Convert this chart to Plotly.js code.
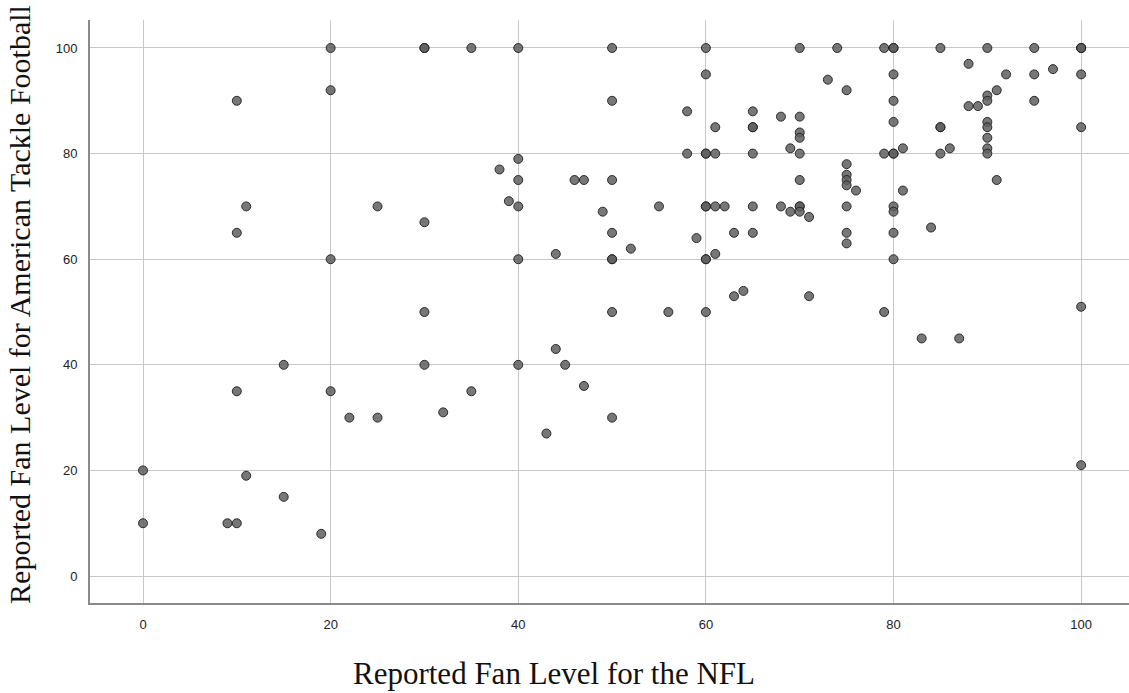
<!DOCTYPE html>
<html>
<head>
<meta charset="utf-8">
<script src="https://cdn.plot.ly/plotly-3.0.1.min.js"></script>
<style>html,body{margin:0;padding:0;background:#fff;}#chart{width:1129px;height:693px;}</style>
</head>
<body>
<div id="chart"></div>
<script>
// Reported Fan Level for the NFL (x) vs American Tackle Football (y)
const nflFan = [
  0, 0, 9, 10, 10, 10, 10, 11, 11, 15, 15, 19,
  20, 20, 20, 20, 22, 25, 25,
  30, 30, 30, 30, 30, 32, 35, 35, 38, 39,
  40, 40, 40, 40, 40, 40, 43, 44, 44, 45, 46, 47, 47, 49,
  50, 50, 50, 50, 50, 50, 50, 50, 52, 55, 56, 58, 58, 59,
  60, 60, 60, 60, 60, 60, 60, 60, 60, 61, 61, 61, 61, 62, 63, 63, 64,
  65, 65, 65, 65, 65, 65, 68, 68, 69, 69,
  70, 70, 70, 70, 70, 70, 70, 70, 70, 71, 71, 73, 74,
  75, 75, 75, 75, 75, 75, 75, 75, 76,
  79, 79, 79, 80, 80, 80, 80, 80, 80, 80, 80, 80, 80, 80, 81, 81, 83, 84,
  85, 85, 85, 85, 86, 87, 88, 88, 89,
  90, 90, 90, 90, 90, 90, 90, 90, 91, 91, 92,
  95, 95, 95, 97, 100, 100, 100, 100, 100, 100, 100
];
const tackleFan = [
  20, 10, 10, 90, 65, 35, 10, 70, 19, 40, 15, 8,
  100, 92, 60, 35, 30, 70, 30,
  100, 100, 67, 50, 40, 31, 100, 35, 77, 71,
  100, 79, 75, 70, 60, 40, 27, 61, 43, 40, 75, 75, 36, 69,
  100, 90, 75, 65, 60, 60, 50, 30, 62, 70, 50, 88, 80, 64,
  100, 95, 80, 80, 70, 70, 60, 60, 50, 85, 80, 70, 61, 70, 65, 53, 54,
  88, 85, 85, 80, 70, 65, 87, 70, 81, 69,
  100, 87, 84, 83, 80, 75, 70, 70, 69, 68, 53, 94, 100,
  92, 78, 76, 75, 74, 70, 65, 63, 73,
  100, 80, 50, 100, 100, 95, 90, 86, 80, 80, 70, 69, 65, 60, 81, 73, 45, 66,
  100, 85, 85, 80, 81, 45, 97, 89, 89,
  100, 91, 90, 86, 85, 83, 81, 80, 92, 75, 95,
  100, 95, 90, 96, 100, 100, 100, 95, 85, 51, 21
];
const tickVals = [0, 20, 40, 60, 80, 100];
const tickText = ['0', '20', '40', '60', '80', '100'];
const xTitle = 'Reported Fan Level for the NFL';
const yTitle = 'Reported Fan Level for American Tackle Football';

const trace = {
  type: 'scatter',
  mode: 'markers',
  x: nflFan,
  y: tackleFan,
  marker: {
    size: 9,
    color: 'rgba(95,95,95,0.85)',
    line: {color: 'rgba(30,30,30,0.9)', width: 1}
  },
  hoverinfo: 'x+y'
};

const axisCommon = {
  showgrid: true,
  gridcolor: '#c8c8c8',
  gridwidth: 1,
  zeroline: false,
  showline: true,
  linecolor: '#8a8a8a',
  linewidth: 2,
  ticks: '',
  tickvals: tickVals,
  ticktext: tickText,
  tickfont: {family: 'Liberation Sans, Arial, sans-serif', size: 13, color: '#222'}
};

const serif = 'Liberation Serif, Times New Roman, serif';

const layout = {
  width: 1129,
  height: 693,
  margin: {l: 90, r: 0, t: 20, b: 90},
  paper_bgcolor: '#ffffff',
  plot_bgcolor: '#ffffff',
  showlegend: false,
  xaxis: Object.assign({}, axisCommon, {
    range: [-5.65, 105.1],
    ticklabelstandoff: 8
  }),
  yaxis: Object.assign({}, axisCommon, {
    range: [-5.1, 105.3],
    ticklabelstandoff: 8
  }),
  annotations: [
    {text: xTitle, xref: 'paper', yref: 'paper', x: 0.4466, y: -0.121,
     xanchor: 'center', yanchor: 'middle', showarrow: false, borderpad: 0,
     font: {family: serif, size: 31, color: '#111'}},
    {text: yTitle, xref: 'paper', yref: 'paper', x: -0.0674, y: 0.513,
     xanchor: 'center', yanchor: 'middle', textangle: -90, showarrow: false, borderpad: 0,
     font: {family: serif, size: 30, color: '#111'}}
  ]
};

Plotly.newPlot('chart', [trace], layout, {displayModeBar: false, staticPlot: true});
</script>
</body>
</html>
